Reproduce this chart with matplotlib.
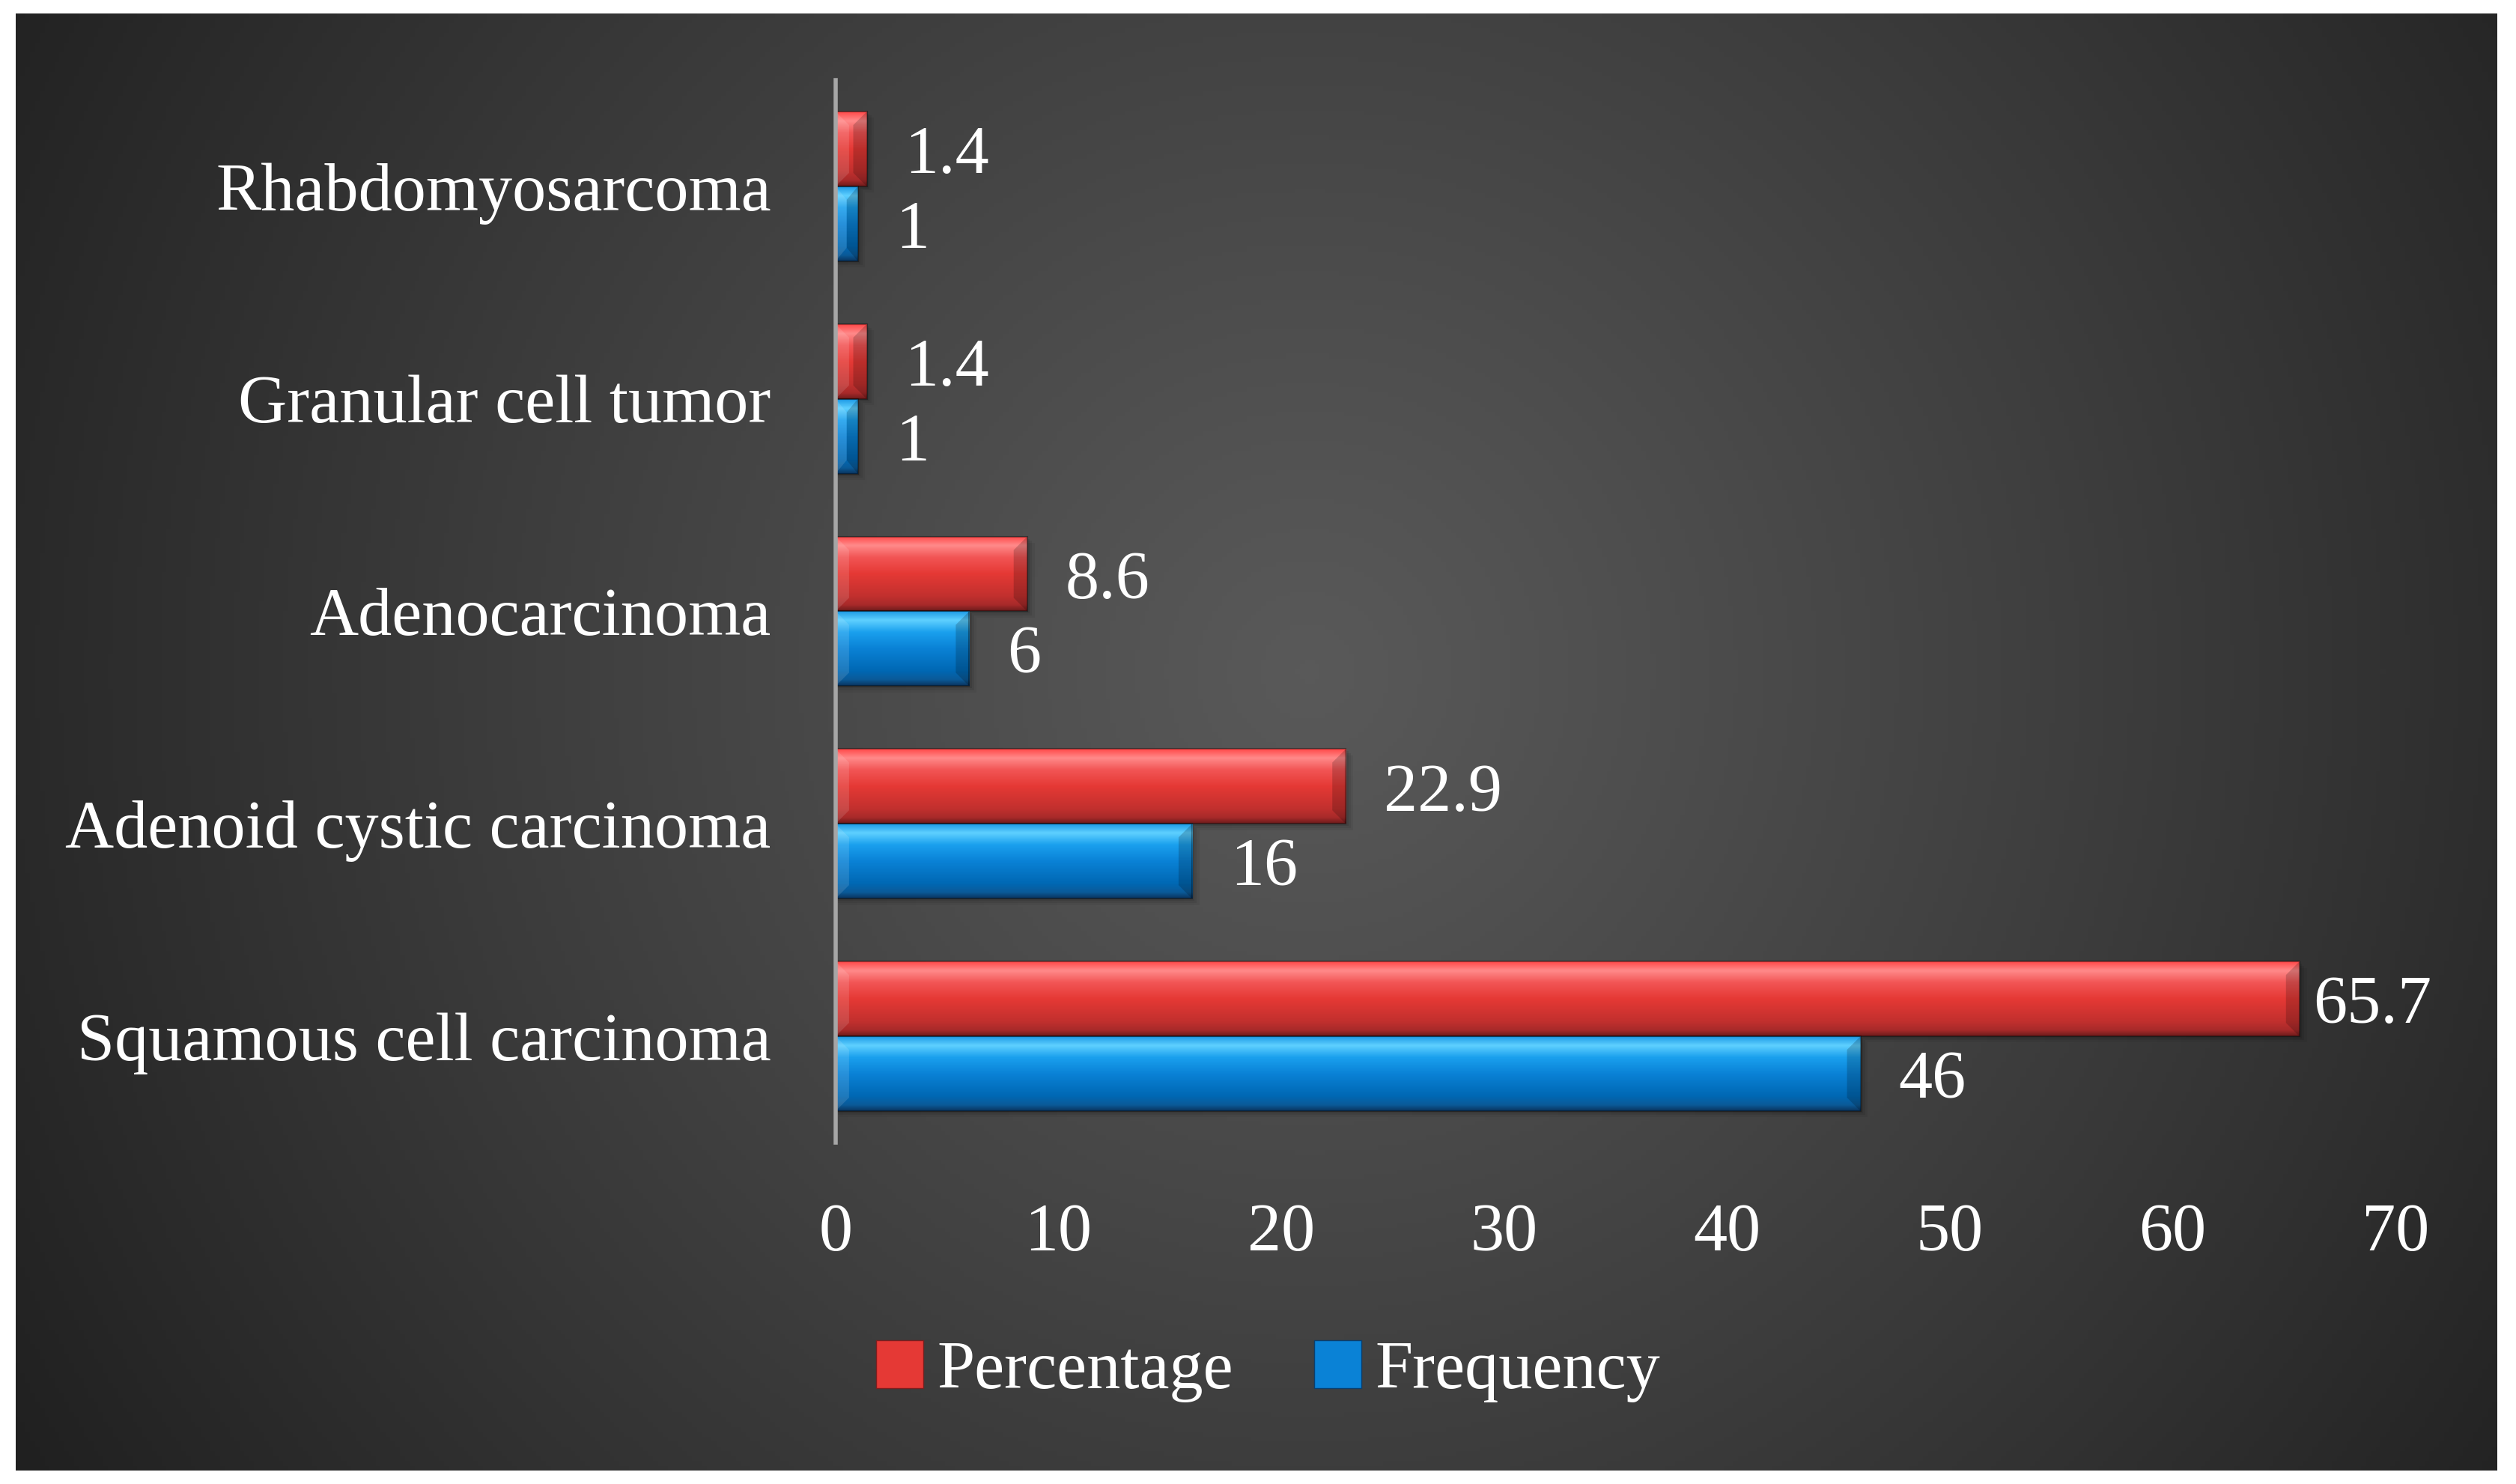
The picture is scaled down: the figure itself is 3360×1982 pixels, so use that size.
import numpy as np
import matplotlib
matplotlib.use("Agg")
import matplotlib.pyplot as plt
from matplotlib.patches import Polygon, Patch
from matplotlib.colors import LinearSegmentedColormap

categories = ["Squamous cell carcinoma", "Adenoid cystic carcinoma",
              "Adenocarcinoma", "Granular cell tumor", "Rhabdomyosarcoma"]
frequency = [46, 16, 6, 1, 1]
percentage = [65.7, 22.9, 8.6, 1.4, 1.4]
xticks = [0, 10, 20, 30, 40, 50, 60, 70]

plt.rcParams['font.family'] = ['Liberation Serif']
FS = 65

fig = plt.figure(figsize=(33.6, 19.82), dpi=100)
fig.patch.set_facecolor('white')

# dark radial background panel
bg = fig.add_axes([21 / 3360, 1 - 1964 / 1982, 3314 / 3360, 1946 / 1982], zorder=-5)
ny, nx = 300, 510
yy, xx = np.mgrid[0:ny, 0:nx]
cx, cy = 0.52 * nx, 0.45 * ny
r = np.sqrt(((xx - cx) / nx * 1.7) ** 2 + ((yy - cy) / ny) ** 2)
r = r / r.max()
val = 0.35 - (0.35 - 0.125) * np.clip(r, 0, 1) ** 1.1
bg.imshow(np.dstack([val, val, val]), aspect='auto', extent=(0, 1, 0, 1), origin='upper')
bg.set_axis_off()

ax = fig.add_axes([0.3321, 0.2301, 0.6199, 0.7159])
ax.set_facecolor('none')

y = np.arange(len(categories))
h = 0.352

red_cmap = LinearSegmentedColormap.from_list('r', [
    (0.0, '#ff4a4a'), (0.12, '#ff8a8a'), (0.28, '#f25555'), (0.5, '#e53935'),
    (0.8, '#c2302e'), (0.92, '#a82a2a'), (1.0, '#6e1c1c')])
blue_cmap = LinearSegmentedColormap.from_list('b', [
    (0.0, '#1e9be6'), (0.12, '#5fd0ff'), (0.28, '#1aa0ee'), (0.5, '#0a82d6'),
    (0.8, '#0068b4'), (0.92, '#0b5a98'), (1.0, '#0a3560')])

bars_p = ax.barh(y + h / 2, percentage, height=h, color='#e53935', zorder=3)
bars_f = ax.barh(y - h / 2, frequency, height=h, color='#0a82d6', zorder=3)

ax.set_xlim(0, 70)
ax.set_ylim(-0.5, len(categories) - 0.5)

# pixel -> data scale for bevels
px_x = 70 / (0.6199 * 3360)
px_y = 5 / (0.7159 * 1982)

grad = np.linspace(0, 1, 200).reshape(-1, 1)
for bars, cmap in [(bars_p, red_cmap), (bars_f, blue_cmap)]:
    for p in bars:
        x0, y0 = p.get_x(), p.get_y()
        w, hh = p.get_width(), p.get_height()
        x1, y1 = x0 + w, y0 + hh
        # soft shadow
        for k, a in [(14, 0.05), (9, 0.07), (5, 0.09)]:
            ax.add_patch(plt.Rectangle((x0 + k * px_x * 0.4, y0 - k * px_y * 0.6), w + k * px_x * 0.3, hh,
                                       color='black', alpha=a, lw=0, zorder=2))
        im = ax.imshow(grad, cmap=cmap, aspect='auto', extent=(x0, x1, y0, y1),
                       origin='upper', zorder=3.5)
        im.set_clip_path(p)
        b = min(18 * px_x, w / 2)
        bv = 18 * px_y
        ax.add_patch(Polygon([(x0, y0), (x0, y1), (x0 + b, y1 - bv), (x0 + b, y0 + bv)],
                             color='white', alpha=0.12, lw=0, zorder=4))
        ax.add_patch(Polygon([(x1, y0), (x1, y1), (x1 - b, y1 - bv), (x1 - b, y0 + bv)],
                             color='black', alpha=0.18, lw=0, zorder=4))
        ax.add_patch(plt.Rectangle((x0, y0), w, hh, fill=False, ec='black', alpha=0.35,
                                   lw=1.5, zorder=4.5))

ax.set_xlim(0, 70)
ax.set_ylim(-0.5, len(categories) - 0.5)

off = 51 * px_x
dy = 10 * px_y
for i, (pv, fv) in enumerate(zip(percentage, frequency)):
    ax.text(min(pv + off, 66.33), y[i] + h / 2 - dy, f"{pv:g}", color='white', fontsize=FS,
            va='center', ha='left', zorder=6)
    ax.text(fv + off, y[i] - h / 2 - dy, f"{fv:g}", color='white', fontsize=FS,
            va='center', ha='left', zorder=6)

ax.set_yticks(y)
ax.set_yticklabels(categories)
ax.set_xticks(xticks)
ax.tick_params(axis='y', length=0, pad=62, labelsize=FS, labelcolor='white')
ax.tick_params(axis='x', length=0, pad=58, labelsize=FS, labelcolor='white')
for s in ['top', 'right', 'bottom']:
    ax.spines[s].set_visible(False)
ax.spines['left'].set_color('#a6a6a6')
ax.spines['left'].set_linewidth(4)
ax.spines['left'].set_zorder(5)

handles = [Patch(facecolor='#e53935', edgecolor='#7a1f1f', label='Percentage'),
           Patch(facecolor='#0a82d6', edgecolor='#0a3f6e', label='Frequency')]
fig.legend(handles=handles, loc='center', bbox_to_anchor=(0.504, 0.076), ncol=2,
           frameon=False, fontsize=FS, labelcolor='white', handlelength=0.7,
           handleheight=0.7, handletextpad=0.2, columnspacing=1.2)

fig.savefig('out.png', dpi=100, facecolor='white')
